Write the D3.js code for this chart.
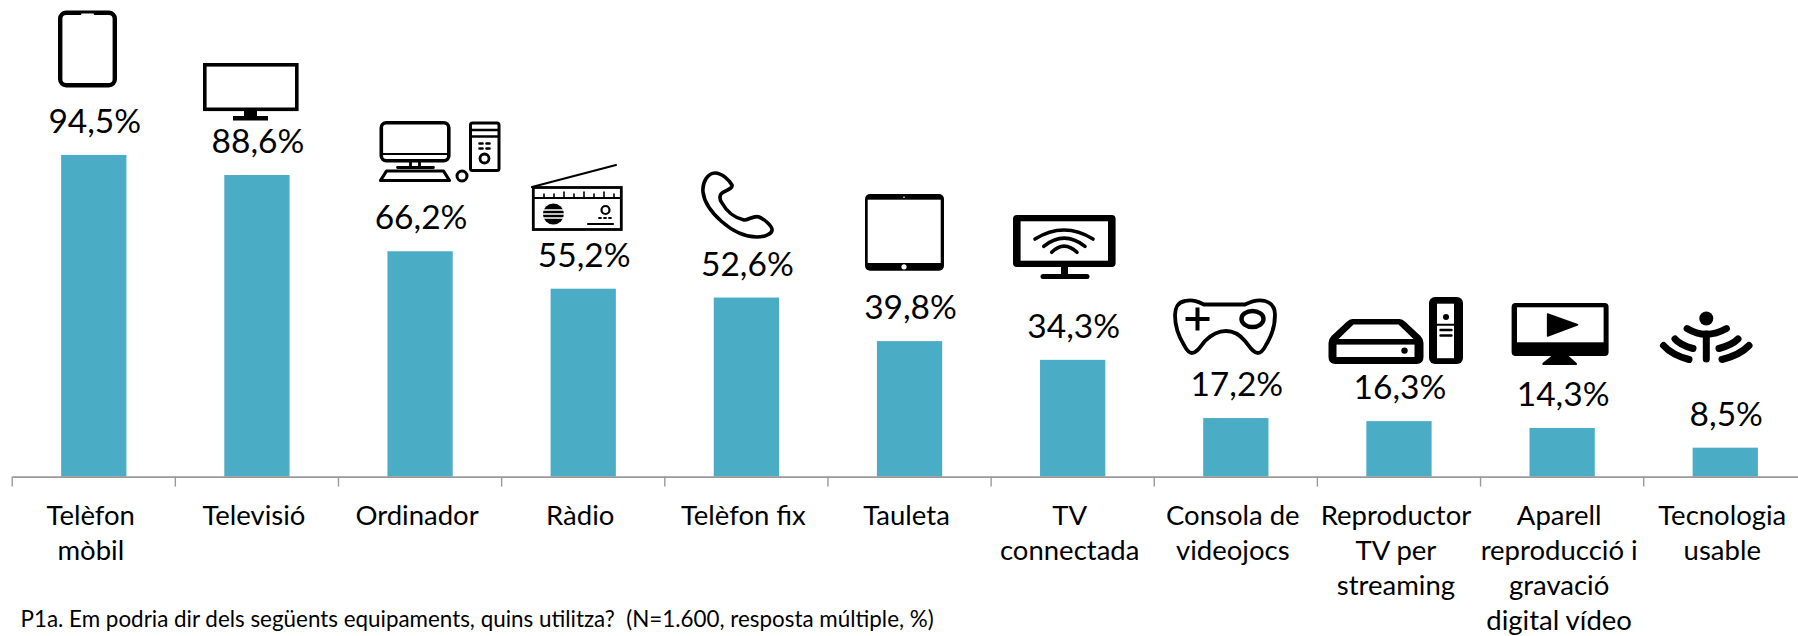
<!DOCTYPE html>
<html><head><meta charset="utf-8">
<script src="https://cdn.jsdelivr.net/npm/d3@7"></script>
<style>html,body{margin:0;background:#fff}svg{display:block}text{font-family:Lato,"Open Sans",sans-serif;fill:#000}</style>
</head><body><svg id="c" width="1798" height="636"></svg>
<script>
const categories=["Telèfon mòbil","Televisió","Ordinador","Ràdio","Telèfon fix","Tauleta","TV connectada","Consola de videojocs","Reproductor TV per streaming","Aparell reproducció i gravació digital vídeo","Tecnologia usable"];
const categoryLines=[["Telèfon","mòbil"],["Televisió"],["Ordinador"],["Ràdio"],["Telèfon fix"],["Tauleta"],["TV","connectada"],["Consola de","videojocs"],["Reproductor","TV per","streaming"],["Aparell","reproducció i","gravació","digital vídeo"],["Tecnologia","usable"]];
const values=[94.5,88.6,66.2,55.2,52.6,39.8,34.3,17.2,16.3,14.3,8.5];
const footnote="P1a. Em podria dir dels següents equipaments, quins utilitza?  (N=1.600, resposta múltiple, %)";
const BAR="#4BACC6",AXIS="#9a9a9a";

const svg=d3.select("#c");
const x=d3.scaleBand().domain(categories).range([12.2,12.2+163.15*11]).paddingInner(0.6).paddingOuter(0.3);
const y=d3.scaleLinear().domain([0,100]).range([476.6,136.2]);
const fmt=v=>d3.format(".1f")(v).replace(".",",")+"%";

svg.selectAll("rect.bar").data(values).join("rect").attr("class","bar")
 .attr("x",(d,i)=>x(categories[i])).attr("width",x.bandwidth())
 .attr("y",d=>y(d)).attr("height",d=>y(0)-y(d)).attr("fill",BAR);

const ax=svg.append("g").attr("transform",`translate(0,${y(0)})`)
 .call(d3.axisBottom(x).tickSize(0).tickPadding(0));
ax.select(".domain").attr("stroke",AXIS).attr("stroke-width",1.6);
ax.selectAll(".tick text").remove();
ax.selectAll(".edge").data(categories).join("line").attr("class","edge")
 .attr("x1",d=>x(d)-x.step()*0.3).attr("x2",d=>x(d)-x.step()*0.3)
 .attr("y1",0).attr("y2",10).attr("stroke",AXIS).attr("stroke-width",1.4);

const cat=svg.append("g").selectAll("text").data(categories).join("text")
 .attr("text-anchor","middle").attr("font-size",27.5);
cat.each(function(d,i){
  d3.select(this).selectAll("tspan").data(categoryLines[i]).join("tspan")
   .attr("x",x(d)+x.bandwidth()/2-3).attr("y",(l,j)=>524.5+j*35).text(l=>l);
});

svg.append("g").selectAll("text").data(values).join("text")
 .attr("text-anchor","middle").attr("font-size",33.5)
 .attr("x",(d,i)=>x(categories[i])+x.bandwidth()/2+1).attr("y",d=>y(d)-22).text(fmt);

svg.append("text").attr("x",20.5).attr("y",627).attr("font-size",22.4).attr("xml:space","preserve").style("white-space","pre").text(footnote);

// pictograms above the bars
const K="#000",W="#fff";
function G(px,py){return svg.append("g").attr("transform",`translate(${px},${py})`)}
function R(g,a,b,w,h,r,fill,st,sw){return g.append("rect").attr("x",a).attr("y",b).attr("width",w).attr("height",h).attr("rx",r||0).attr("fill",fill||"none").attr("stroke",st||"none").attr("stroke-width",sw||0)}
function P(g,d,fill,st,sw){return g.append("path").attr("d",d).attr("fill",fill||"none").attr("stroke",st||"none").attr("stroke-width",sw||0).attr("stroke-linecap","round").attr("stroke-linejoin","round")}
function C(g,a,b,r,fill,st,sw){return g.append("circle").attr("cx",a).attr("cy",b).attr("r",r).attr("fill",fill||"none").attr("stroke",st||"none").attr("stroke-width",sw||0)}

let g=G(58,10.5); R(g,2.2,2.2,54.6,72.6,6,"none",K,4.4); R(g,23,3,13,1.6,.8,W);

g=G(203,63); R(g,1.8,1.8,92,44.5,0,"none",K,3.6); R(g,41,48,13,5,0,K); R(g,30,53,35,4.5,0,K);

g=G(379.5,121);
R(g,1.8,1.8,67.5,38,5,"none",K,3.6); P(g,"M2 33H69","none",K,2);
P(g,"M31 41V46M40 41V46M18 46.5H54","none",K,2.8);
P(g,"M7 50H64L70 59.5H1Z","none",K,3.2);
C(g,82.5,55,5,"none",K,3);
R(g,91,2,28.5,47.5,2,"none",K,3); P(g,"M91 9H119M91 15.5H119","none",K,2.6);
P(g,"M100 22.5H103M107 22.5H110M100 27.5H103M107 27.5H110","none",K,2.6);
C(g,105,37.5,4.5,"none",K,2.8);

g=G(532,165);
P(g,"M0 22L84 0","none",K,2.2);
R(g,1.3,22.5,88,42,0,"none",K,2.8); P(g,"M1 33H89","none",K,2.2);
P(g,"M12 33V29M22 33V29M32 33V27M42 33V29M52 33V27M62 33V29M72 33V27M82 33V29","none",K,1.6);
C(g,21.4,49,10.5,K);
P(g,"M10 45H33M10 49H33M10 53H33","none",W,1.4);
C(g,73.5,45,4,"none",K,2.2);
P(g,"M67 53H69M72 53H74M77 53H79","none",K,1.8); P(g,"M56 59H81","none",K,2.2);

g=G(702,172);
P(g,"M13 1C20 1 27 8 30 13C31 17 22 19 19 22C17 25 18 28 20 31C25 40 33 46 42 48C47 48 52 43 57 45C62 47 69 53 70 57C71 62 62 65 55 65C30 65 3 38 1 20C0 10 6 1 13 1Z","none",K,3.6);

g=G(865,194); R(g,0,0,79,76.7,5,K); R(g,2.7,5.7,73,63.3,0,W); C(g,39,72.8,2.6,W); C(g,39,3.2,.8,W);

g=G(1013,215);
R(g,0,0,102.6,52,4,K); R(g,7.6,6.3,87.4,39.4,0,W);
P(g,"M22 24Q51 6 80 24M30.7 31.3Q51 15 72 31.3M38.7 37.3Q51 25 64 37.3","none",K,3.6);
R(g,48,51,7,9,0,K); R(g,27.5,59,49,5,2.5,K);

g=G(1174,299);
P(g,"M11 2C19 0 25 3 30 5.5H71C76 3 83 0 91 2C98 4 101 9 101 16C101 27 97 38 92 46C89 52 87 54 84 54C79 54 76 48 71 42C66 36 60 32 52 32C43 32 37 36 31 42C26 48 23 54 18 54C15 54 13 52 10 46C5 38 1 27 1 16C1 9 4 3 11 2Z","none",K,3.8);
P(g,"M11.5 20H35.5M23.5 8.5V31.5","none",K,4).attr("stroke-linecap","butt");
g.append("ellipse").attr("cx",78.5).attr("cy",20).attr("rx",11).attr("ry",8).attr("fill","none").attr("stroke",K).attr("stroke-width",4.4);

g=G(1328.5,319);
P(g,"M24 0H71Q74 0 77 3L92 17Q95 20 95 24V38Q95 45 88 45H7Q0 45 0 38V24Q0 20 3 17L18 3Q21 0 24 0Z",K);
P(g,"M25 5.5H70L85 20H10Z",W); R(g,8,25.6,78,12.4,0,W); C(g,76,31.6,3.2,K);
g=G(1429,297);
R(g,0,0,34,67,6,K); R(g,8,6.7,17,54.5,0,W); C(g,17,20,3,K); P(g,"M8 27.7H25","none",K,2);
P(g,"M11.5 33H22.5M11.5 38.5H22.5","none",K,2.4);

g=G(1511.6,303);
R(g,0,0,97,53,4,K); R(g,5.4,4.3,86.6,35,0,W);
P(g,"M36 11L66 21.7L36 33Z",K,K,1.5);
P(g,"M41 52H56L65 60Q66 62 64 62H32Q30 62 31 60Z",K);

g=G(1660,312);
C(g,46.3,6.5,7,K);
P(g,"M27 16.5Q46 28 66.5 16.5","none",K,6.8); P(g,"M46.3 22V47","none",K,7);
P(g,"M15 27Q20 33 33 36.5M78 27Q72 33 59 36.5","none",K,7);
P(g,"M3.5 33.5Q12 43 29 47.5M89 33.5Q80 43 62 47.5","none",K,7);
</script></body></html>
